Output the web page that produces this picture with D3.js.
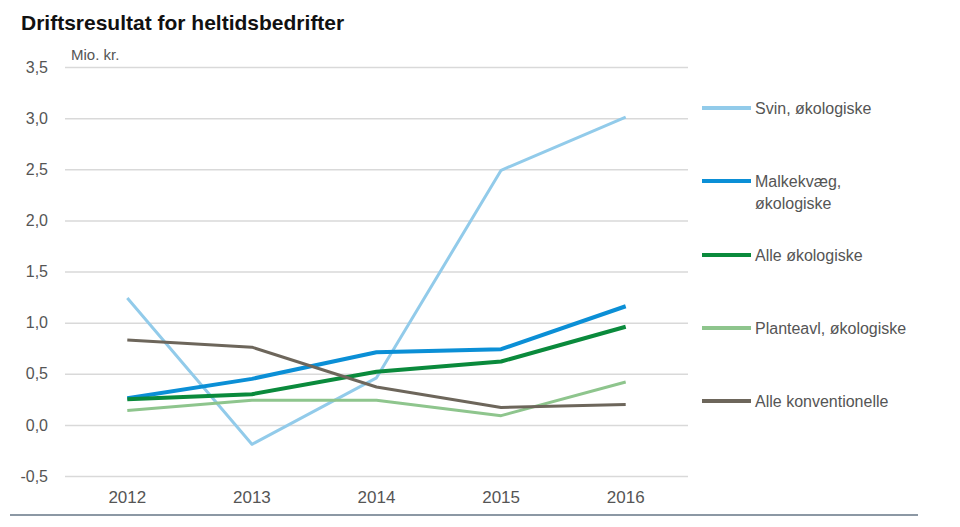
<!DOCTYPE html>
<html>
<head>
<meta charset="utf-8">
<script src="https://cdn.jsdelivr.net/npm/d3@7"></script>
<style>
  body { margin: 0; background: #fff; }
  svg { font-family: "Liberation Sans", Arial, sans-serif; }
</style>
</head>
<body>
<script>
// data
const years = ["2012", "2013", "2014", "2015", "2016"];
const svin = [1.24, -0.19, 0.46, 2.49, 3.01];
const malkekvaeg = [0.26, 0.45, 0.71, 0.74, 1.16];
const alleOko = [0.25, 0.30, 0.52, 0.62, 0.96];
const planteavl = [0.14, 0.24, 0.24, 0.09, 0.42];
const konventionelle = [0.83, 0.76, 0.37, 0.17, 0.20];
const yTicks = [-0.5, 0, 0.5, 1, 1.5, 2, 2.5, 3, 3.5];

const series = [
  { navn: ["Svin, økologiske"], værdier: svin, farve: "#92cbea", bredde: 3, ly: 108 },
  { navn: ["Malkekvæg,", "økologiske"], værdier: malkekvaeg, farve: "#0b8fd6", bredde: 4, ly: 181 },
  { navn: ["Alle økologiske"], værdier: alleOko, farve: "#0a8a3c", bredde: 4, ly: 255 },
  { navn: ["Planteavl, økologiske"], værdier: planteavl, farve: "#8ec58d", bredde: 3, ly: 328 },
  { navn: ["Alle konventionelle"], værdier: konventionelle, farve: "#6d665b", bredde: 3, ly: 401 }
];

const width = 960, height = 527;
const margin = { left: 65, right: 272, top: 67, bottom: 51 };

const svg = d3.select("body").append("svg")
  .attr("width", width)
  .attr("height", height);

// titel
svg.append("text")
  .attr("x", 21).attr("y", 30)
  .attr("font-weight", "bold")
  .attr("font-size", 21)
  .attr("fill", "#111")
  .text("Driftsresultat for heltidsbedrifter");

const x = d3.scaleBand()
  .domain(years)
  .range([margin.left, width - margin.right]);

const y = d3.scaleLinear()
  .domain([-0.5, 3.5])
  .range([height - margin.bottom, margin.top]);

// gitterlinjer + y-akse
const ejeY = d3.axisLeft(y)
  .tickValues(yTicks)
  .tickSize(-(width - margin.left - margin.right))
  .tickPadding(17)
  .tickFormat(d => d3.format(".1f")(d).replace(".", ",").replace("−", "-"));

const gY = svg.append("g")
  .attr("transform", "translate(" + margin.left + ",0)")
  .call(ejeY);
gY.select(".domain").remove();
gY.selectAll("line").attr("stroke", "#d9d9d9").attr("stroke-width", 1.5);
gY.selectAll("text").attr("fill", "#555").attr("font-size", 16);

svg.append("text")
  .attr("x", 71).attr("y", 60)
  .attr("font-size", 15)
  .attr("fill", "#555")
  .text("Mio. kr.");

// x-akse
const ejeX = d3.axisBottom(x).tickSize(0).tickPadding(15);
const gX = svg.append("g")
  .attr("transform", "translate(0," + (height - margin.bottom) + ")")
  .call(ejeX);
gX.select(".domain").remove();
gX.selectAll("text").attr("fill", "#555").attr("font-size", 17);

// bundlinje
svg.append("line")
  .attr("x1", 10).attr("x2", 918)
  .attr("y1", 515).attr("y2", 515)
  .attr("stroke", "#8c98a4").attr("stroke-width", 2);

// linjer
const linje = d3.line()
  .x((d, i) => x(years[i]) + x.bandwidth() / 2)
  .y(d => y(d));

svg.selectAll("path.serie")
  .data(series)
  .enter()
  .append("path")
  .attr("class", "serie")
  .attr("d", d => linje(d.værdier))
  .attr("fill", "none")
  .attr("stroke", d => d.farve)
  .attr("stroke-width", d => d.bredde)
  .attr("stroke-linejoin", "round");

// forklaring
const leg = svg.selectAll("g.leg")
  .data(series)
  .enter()
  .append("g")
  .attr("class", "leg")
  .attr("transform", d => "translate(702," + d.ly + ")");

leg.append("line")
  .attr("x1", 0).attr("x2", 49)
  .attr("stroke", d => d.farve)
  .attr("stroke-width", 4);

leg.append("text")
  .attr("x", 53)
  .attr("y", 6)
  .attr("font-size", 16)
  .attr("fill", "#555")
  .selectAll("tspan")
  .data(d => d.navn)
  .enter()
  .append("tspan")
  .attr("x", 53)
  .attr("dy", (d, i) => i === 0 ? 0 : 22)
  .text(d => d);
</script>
</body>
</html>
